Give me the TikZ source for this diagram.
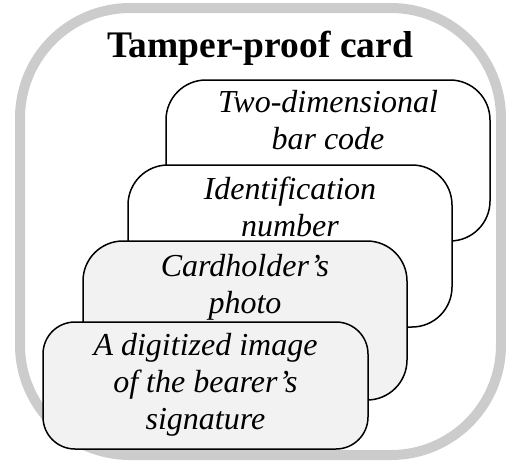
\documentclass[tikz,border=0pt]{standalone}
\usepackage{fontspec}
\setmainfont{Liberation Serif}
\definecolor{framegray}{HTML}{CCCCCC}
\definecolor{cardfill}{HTML}{F2F2F2}
\tikzset{
  frame/.style={draw=framegray, line width=10pt, rounded corners=110pt},
  card/.style={draw=black, line width=1.5pt, fill=white, rounded corners=40pt},
  greycard/.style={card, fill=cardfill},
  cardtext/.style={anchor=north, align=center, inner sep=0pt,
    font=\itshape\fontsize{32}{37}\selectfont},
  titletext/.style={anchor=base, inner sep=0pt,
    font=\bfseries\fontsize{37.5}{40}\selectfont}
}
\begin{document}
\begin{tikzpicture}[x=1pt, y=-1pt]
  \useasboundingbox (0,0) rectangle (506,461);
  % outer card outline
  \node[frame, minimum width=481pt, minimum height=447pt] (frame) at (260.5,231.5) {};
  \node[titletext] (title) at (260,57) {Tamper-proof card};
  % stacked feature cards, back to front
  \node[card, minimum width=324pt, minimum height=161pt] (c1) at (328,160.5) {};
  \node[cardtext] (t1) at (328,90) {Two-dimensional\\bar code};
  \node[card, minimum width=324pt, minimum height=162pt] (c2) at (290,246) {};
  \node[cardtext] (t2) at (290,177) {Identification\\number};
  \node[greycard, minimum width=324pt, minimum height=159pt] (c3) at (245,320.5) {};
  \node[cardtext] (t3) at (245,254) {Cardholder’s\\photo};
  \node[greycard, rounded corners=32pt, minimum width=325pt, minimum height=127pt] (c4) at (205.5,385.5) {};
  \node[cardtext] (t4) at (205.5,333) {A digitized image\\of the bearer’s\\signature};
\end{tikzpicture}
\end{document}
